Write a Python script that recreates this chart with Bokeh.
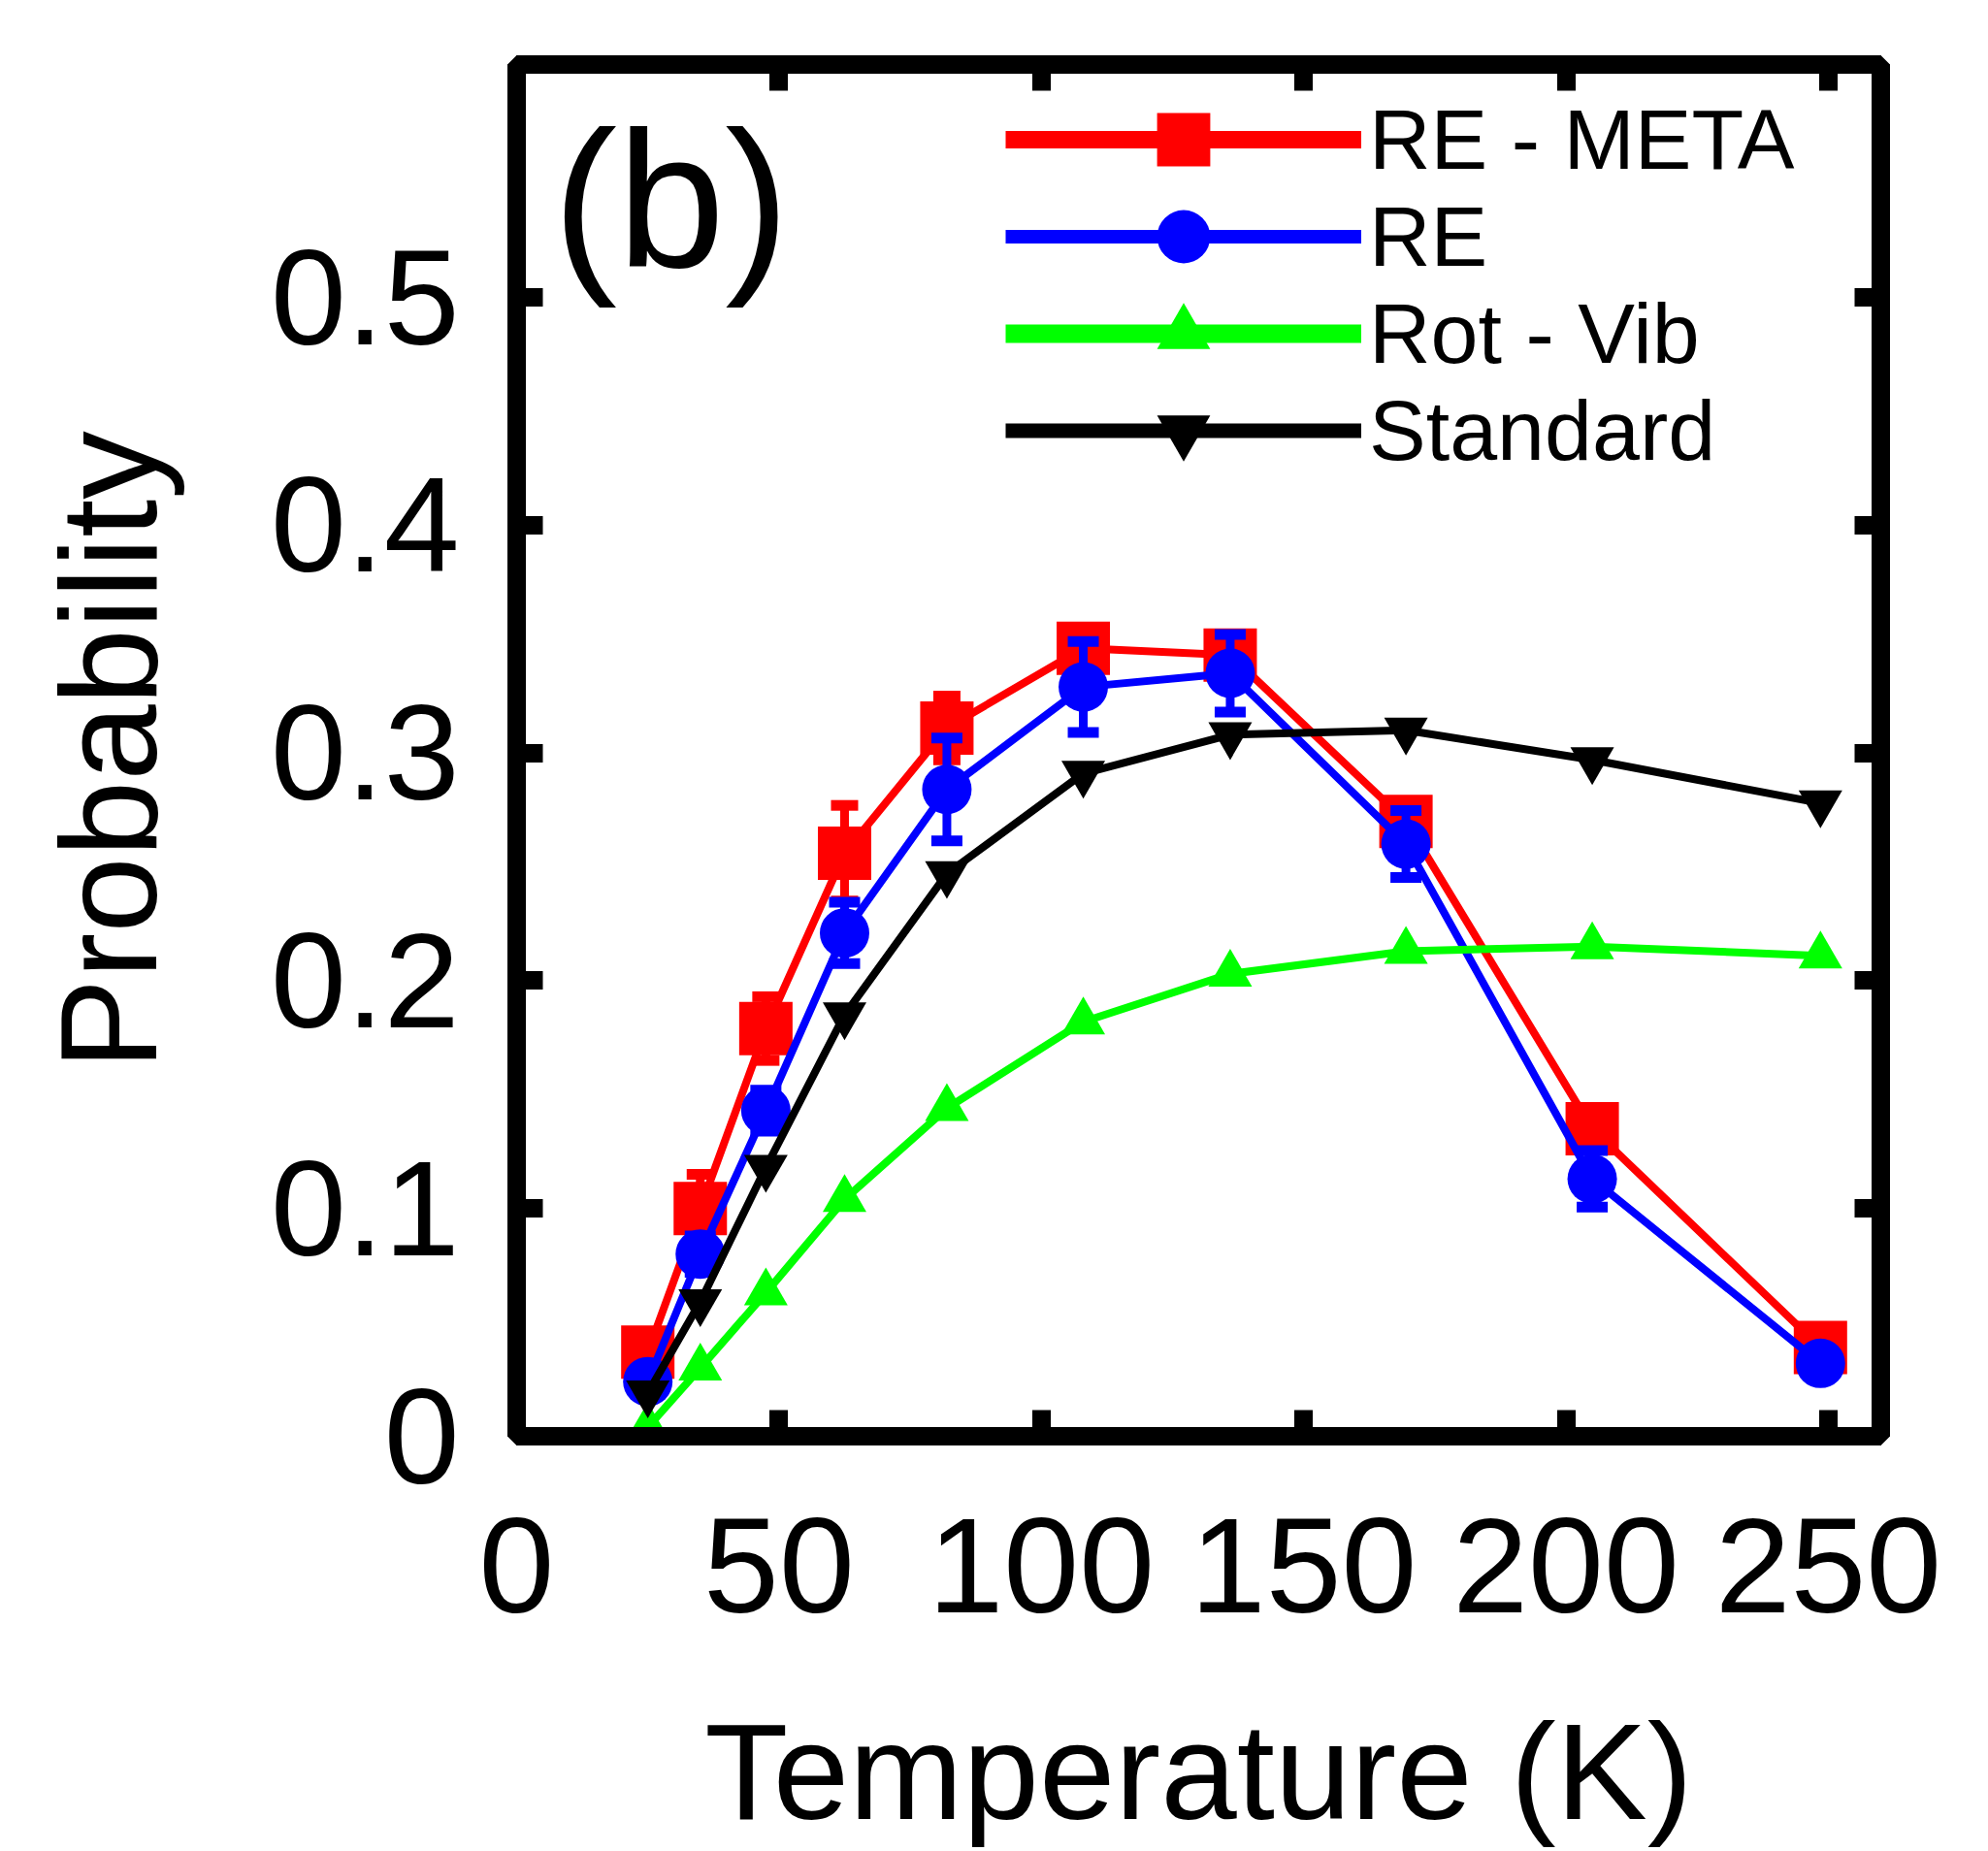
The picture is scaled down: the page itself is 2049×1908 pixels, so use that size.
import numpy as np
from bokeh.plotting import figure
from bokeh.models import (ColumnDataSource, LinearAxis, FixedTicker,
                          Legend, LegendItem, Label, Range1d)
from bokeh.embed import file_html
from bokeh.resources import INLINE

# ---------------- data ----------------
temperature = [25, 35, 47.5, 62.5, 82, 108, 136, 169.5, 205, 248.5]
re_meta = [0.037, 0.100, 0.179, 0.256, 0.311, 0.346, 0.343, 0.270, 0.135, 0.039]
re_meta_err = [0.006, 0.015, 0.014, 0.021, 0.014, 0.009, 0.009, 0.009, 0.008, 0.006]
re_vals = [0.024, 0.080, 0.143, 0.221, 0.284, 0.329, 0.335, 0.260, 0.113, 0.032]
re_err = [0.006, 0.008, 0.009, 0.0135, 0.0226, 0.020, 0.017, 0.0147, 0.0124, 0.006]
rot_vib = [0.004, 0.030, 0.063, 0.104, 0.144, 0.182, 0.203, 0.213, 0.215, 0.211]
standard = [0.019, 0.059, 0.118, 0.185, 0.247, 0.291, 0.308, 0.310, 0.297, 0.278]

x_ticks = [0, 50, 100, 150, 200, 250]
y_ticks = [0, 0.1, 0.2, 0.3, 0.4, 0.5]
y_tick_labels = ["0", "0.1", "0.2", "0.3", "0.4", "0.5"]

series_names = ["RE - META", "RE", "Rot - Vib", "Standard"]
x_label = "Temperature (K)"
y_label = "Probability"
panel_tag = "(b)"

FONT = "Liberation Sans"
RED, BLUE, GREEN, BLACK = "#ff0000", "#0000ff", "#00ff00", "#000000"

p = figure(width=2049, height=1908,
           x_range=Range1d(0, 260), y_range=Range1d(0, 0.6023),
           output_backend="svg", toolbar_location=None,
           min_border_left=532, min_border_right=111,
           min_border_top=66, min_border_bottom=428)
p.grid.visible = False
p.background_fill_color = "white"
p.border_fill_color = "white"
p.outline_line_color = "black"
p.outline_line_width = 19


def style_axis(ax, ticks, show_labels):
    ax.ticker = FixedTicker(ticks=ticks)
    ax.axis_line_color = "black"
    ax.axis_line_width = 19
    ax.major_tick_in = 27
    ax.major_tick_out = 0
    ax.major_tick_line_width = 19
    ax.major_tick_line_color = "black"
    ax.minor_tick_line_color = None
    ax.major_label_text_font = FONT
    ax.axis_label_text_font = FONT
    ax.axis_label_text_font_style = "normal"
    ax.axis_label_text_color = "black"
    if show_labels:
        ax.major_label_text_color = "black"
        ax.major_label_text_font_size = "140px"
        ax.axis_label_text_font_size = "141px"
    else:
        ax.major_label_text_color = None
        ax.major_label_text_font_size = "10px"
        ax.major_label_standoff = 0


xax = p.xaxis[0]
yax = p.yaxis[0]
style_axis(xax, x_ticks, True)
style_axis(yax, y_ticks, True)
xax.axis_label = x_label
yax.axis_label = y_label
xax.major_label_standoff = 85
yax.major_label_standoff = 59
xax.axis_label_standoff = 82
yax.axis_label_standoff = 85
yax.major_label_overrides = {t: s for t, s in zip(y_ticks, y_tick_labels)}

top_ax = LinearAxis()
right_ax = LinearAxis()
style_axis(top_ax, x_ticks, False)
style_axis(right_ax, y_ticks, False)
p.add_layout(top_ax, "above")
p.add_layout(right_ax, "right")

# ---------------- series ----------------
def err_source(vals, errs):
    return ColumnDataSource(dict(
        x=temperature, y=vals,
        lo=[v - e for v, e in zip(vals, errs)],
        hi=[v + e for v, e in zip(vals, errs)]))


src_meta = err_source(re_meta, re_meta_err)
src_re = err_source(re_vals, re_err)
src_rv = ColumnDataSource(dict(x=temperature, y=rot_vib))
src_st = ColumnDataSource(dict(x=temperature, y=standard))


def error_bars(src, color, cap):
    p.segment(x0="x", y0="lo", x1="x", y1="hi", source=src,
              line_color=color, line_width=9)
    p.scatter("x", "hi", source=src, marker="dash", size=cap,
              line_color=color, line_width=11)
    p.scatter("x", "lo", source=src, marker="dash", size=cap,
              line_color=color, line_width=11)


# RE-META
p.line("x", "y", source=src_meta, line_color=RED, line_width=8)
error_bars(src_meta, RED, 28)
r_meta = p.scatter("x", "y", source=src_meta, marker="square", size=55,
                   fill_color=RED, line_color=None)

# RE
p.line("x", "y", source=src_re, line_color=BLUE, line_width=8)
error_bars(src_re, BLUE, 32)
r_re = p.scatter("x", "y", source=src_re, marker="circle", size=51,
                 fill_color=BLUE, line_color=None)

# Rot-Vib
p.line("x", "y", source=src_rv, line_color=GREEN, line_width=8)
r_rv = p.scatter("x", "y", source=src_rv, marker="triangle", size=45,
                 fill_color=GREEN, line_color=None)

# Standard
p.line("x", "y", source=src_st, line_color=BLACK, line_width=8)
r_st = p.scatter("x", "y", source=src_st, marker="inverted_triangle", size=45,
                 fill_color=BLACK, line_color=None)

# thick line keys for the legend only (no points in the plot)
nan_pts = np.array([np.nan, np.nan])
lg_meta = p.line(x=nan_pts, y=nan_pts, line_color=RED, line_width=18)
lg_re = p.line(x=nan_pts, y=nan_pts, line_color=BLUE, line_width=14)
lg_rv = p.line(x=nan_pts, y=nan_pts, line_color=GREEN, line_width=19)
lg_st = p.line(x=nan_pts, y=nan_pts, line_color=BLACK, line_width=15)

legend_rows = [
    (series_names[0], [lg_meta, r_meta], 1268),
    (series_names[1], [lg_re, r_re], 1168),
    (series_names[2], [lg_rv, r_rv], 1068),
    (series_names[3], [lg_st, r_st], 968),
]
for name, rends, vy in legend_rows:
    lg = Legend(items=[LegendItem(label=name, renderers=rends)], location=(504, vy))
    lg.glyph_width = 367
    lg.glyph_height = 137
    lg.spacing = 0
    lg.padding = 0
    lg.margin = 0
    lg.label_standoff = 8
    lg.label_text_font = FONT
    lg.label_text_font_size = "88px"
    lg.label_text_color = "black"
    lg.border_line_color = None
    lg.background_fill_alpha = 0
    p.add_layout(lg)

tag = Label(x=37, y=1275, x_units="screen", y_units="screen", text=panel_tag,
            text_font=FONT, text_font_size="200px", text_color="black",
            text_baseline="alphabetic", text_align="left")
p.add_layout(tag)

open("out.html", "w").write(file_html(p, INLINE))
